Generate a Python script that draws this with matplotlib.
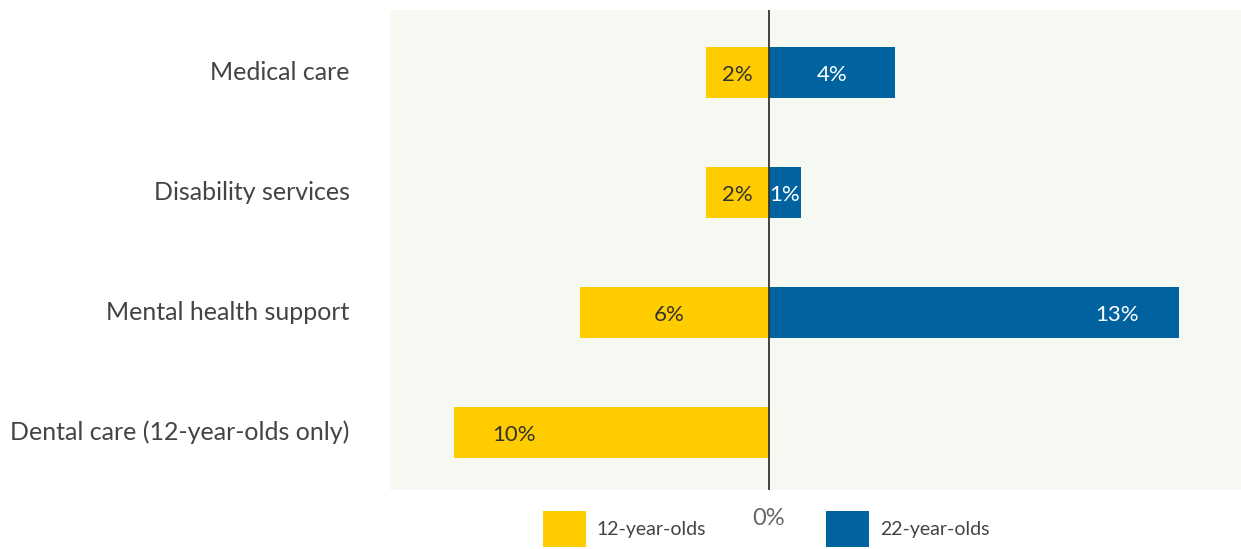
import matplotlib

matplotlib.use("Agg")
import matplotlib.patches as mpatches
import matplotlib.pyplot as plt

plt.rcParams["font.family"] = ["Lato", "DejaVu Sans"]

categories = ["Medical care", "Disability services", "Mental health support", "Dental care (12-year-olds only)"]
age12 = [2, 2, 6, 10]
age22 = [4, 1, 13, 0]
# where the value label sits, as a share of the bar length from zero
label_frac12 = [0.5, 0.5, 0.53, 0.81]
label_frac22 = [0.5, 0.5, 0.85, 0.5]

YELLOW = "#ffcc00"
BLUE = "#0063a0"
BG = "#f6f9f2"

fig = plt.figure(figsize=(12.41, 5.49), dpi=100)
ax = fig.add_axes([390 / 1241, 1 - 490 / 549, 1 - 390 / 1241, 480 / 549])
ax.set_facecolor(BG)

ypos = list(range(len(categories)))
ax.barh(ypos, [-v for v in age12], height=0.43, color=YELLOW, zorder=2)
ax.barh(ypos, age22, height=0.43, color=BLUE, zorder=2)
ax.axvline(0, color="#333333", linewidth=1.3, zorder=3)

for y, v, f in zip(ypos, age12, label_frac12):
    if v:
        ax.text(-v * f, y + 0.02, f"{v}%", ha="center", va="center", fontsize=16, color="#333333", zorder=4)
for y, v, f in zip(ypos, age22, label_frac22):
    if v:
        ax.text(v * f, y + 0.02, f"{v}%", ha="center", va="center", fontsize=16, color="white", zorder=4)

ax.set_xlim(-12.03, 14.98)
ax.set_ylim(3.48, -0.52)
ax.set_yticks(ypos)
ax.set_yticklabels(categories, fontsize=18, color="#444444", va="center")
ax.set_xticks([0])
ax.set_xticklabels(["0%"], fontsize=17, color="#666666")
ax.tick_params(axis="y", length=0, pad=29)
ax.tick_params(axis="x", length=0, pad=13)
for s in ax.spines.values():
    s.set_visible(False)

handles = [
    mpatches.Patch(facecolor=YELLOW, label="12-year-olds"),
    mpatches.Patch(facecolor=BLUE, label="22-year-olds"),
]
fig.legend(
    handles=handles,
    loc="center",
    bbox_to_anchor=(766 / 1241, 1 - 529 / 549),
    ncol=2,
    frameon=False,
    fontsize=14,
    labelcolor="#444444",
    handlelength=2.2,
    handleheight=2.5,
    handletextpad=0.55,
    columnspacing=6.2,
)

fig.savefig("out.png", dpi=100)
